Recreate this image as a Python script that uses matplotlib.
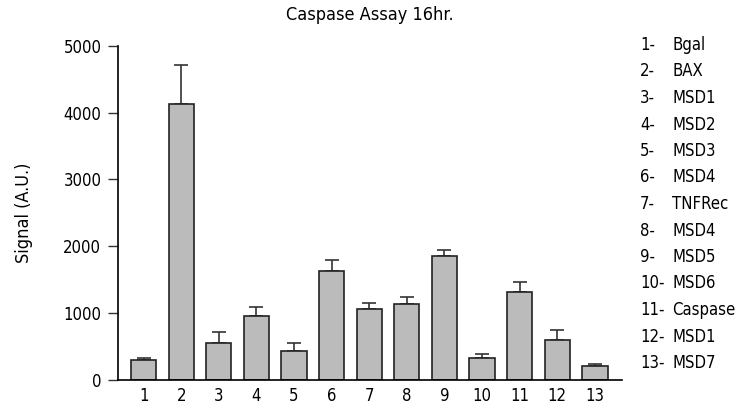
import matplotlib
matplotlib.use("Agg")
import matplotlib.pyplot as plt

plt.rcParams['font.family'] = ['DejaVu Sans']
plt.rcParams['font.stretch'] = 'condensed'

categories = ["1", "2", "3", "4", "5", "6", "7", "8", "9", "10", "11", "12", "13"]
names_list = ["Bgal", "BAX", "MSD1", "MSD2", "MSD3", "MSD4", "TNFRec",
              "MSD4", "MSD5", "MSD6", "Caspase", "MSD1", "MSD7"]
values = [299, 4121, 558, 958, 439, 1636, 1058, 1133, 1856, 329, 1322, 603, 210]
errors = [35, 595, 165, 140, 120, 155, 90, 110, 85, 55, 140, 140, 25]
yticks = [0, 1000, 2000, 3000, 4000, 5000]

fig = plt.figure(figsize=(7.39, 4.08), dpi=100)
ax = fig.add_axes([118/739, 1-380/408, (622-118)/739, (380-45.7)/408])

x = list(range(1, len(values)+1))
ax.bar(x, values, width=0.67, color="#bbbbbb", edgecolor="#222222", linewidth=1.2, zorder=2)
ax.errorbar(x, values, yerr=[[0]*len(errors), errors], fmt="none", ecolor="#333333",
            elinewidth=1.2, capsize=4.7, capthick=1.2, zorder=1)

ax.set_xlim(0.32, 13.72)
ax.set_ylim(0, 5000)
ax.set_yticks(yticks)
ax.set_yticklabels([str(v) for v in yticks], fontsize=12)
ax.set_xticks(x)
ax.set_xticklabels(categories, fontsize=12)
ax.tick_params(axis='x', length=0, pad=5)
ax.tick_params(axis='y', length=7, width=1, direction='out', pad=5, color="#333333")
for s in ["top", "right"]:
    ax.spines[s].set_visible(False)
ax.spines["left"].set_linewidth(1.2)
ax.spines["bottom"].set_linewidth(1.2)
ax.set_ylabel("Signal (A.U.)", fontsize=13, labelpad=22)
fig.text(370/739, 1-15/408, "Caspase Assay 16hr.", ha="center", va="center", fontsize=13)

for i, (c, n) in enumerate(zip(categories, names_list)):
    yy = 1 - (45 + i*26.5)/408
    fig.text(640/739, yy, c + "-", ha="left", va="center", fontsize=12)
    fig.text(672/739, yy, n, ha="left", va="center", fontsize=12)

fig.savefig("out.png", dpi=100)
